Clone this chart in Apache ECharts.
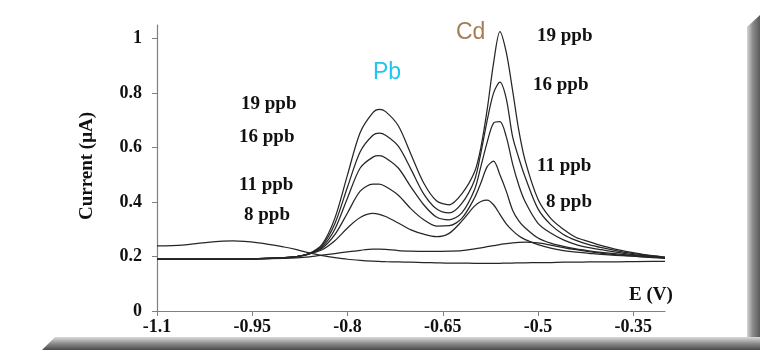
<!DOCTYPE html>
<html><head><meta charset="utf-8">
<script src="https://cdn.jsdelivr.net/npm/echarts@6/dist/echarts.min.js"></script>
<style>html,body{margin:0;padding:0;background:#fff}#c{width:780px;height:360px}</style>
</head><body><div id="c"></div>
<script>
// Potential (V)
const E = [-1.1,-1.06,-1.02,-0.98,-0.94,-0.90,-0.88,-0.86,-0.84,-0.82,-0.80,-0.78,-0.76,-0.75,-0.74,-0.72,-0.70,-0.68,-0.66,-0.64,-0.62,-0.60,-0.59,-0.58,-0.57,-0.56,-0.55,-0.54,-0.53,-0.52,-0.50,-0.48,-0.46,-0.44,-0.42,-0.40,-0.36,-0.32,-0.30];
// Current (µA) curves
const curveBlank = [0.239,0.242,0.252,0.257,0.25,0.235,0.225,0.213,0.203,0.196,0.19,0.186,0.183,0.182,0.181,0.18,0.179,0.178,0.177,0.176,0.176,0.175,0.175,0.175,0.175,0.175,0.176,0.176,0.177,0.177,0.178,0.178,0.179,0.179,0.18,0.18,0.181,0.182,0.182];
const curveLow = [0.19,0.19,0.19,0.19,0.191,0.193,0.195,0.199,0.205,0.211,0.217,0.223,0.227,0.227,0.226,0.222,0.22,0.219,0.219,0.22,0.222,0.228,0.232,0.236,0.24,0.244,0.247,0.25,0.252,0.253,0.25,0.242,0.233,0.225,0.218,0.212,0.203,0.196,0.193];
const curve5 = [0.19,0.19,0.19,0.19,0.191,0.195,0.2,0.21,0.225,0.258,0.305,0.343,0.358,0.355,0.347,0.323,0.298,0.282,0.273,0.285,0.33,0.385,0.402,0.407,0.39,0.355,0.32,0.295,0.275,0.262,0.244,0.231,0.222,0.216,0.212,0.208,0.202,0.198,0.195];
const curve4 = [0.19,0.19,0.19,0.19,0.192,0.196,0.2,0.21,0.23,0.28,0.36,0.44,0.466,0.466,0.457,0.425,0.375,0.335,0.312,0.313,0.34,0.415,0.47,0.53,0.55,0.5,0.44,0.37,0.33,0.305,0.268,0.249,0.237,0.228,0.221,0.215,0.206,0.199,0.196];
const curve3 = [0.19,0.19,0.19,0.19,0.192,0.196,0.2,0.21,0.235,0.3,0.415,0.525,0.565,0.57,0.562,0.525,0.455,0.39,0.345,0.335,0.36,0.445,0.53,0.62,0.69,0.695,0.64,0.54,0.46,0.4,0.322,0.286,0.261,0.244,0.233,0.225,0.21,0.2,0.196];
const curve2 = [0.19,0.19,0.19,0.19,0.192,0.196,0.2,0.211,0.24,0.32,0.455,0.585,0.645,0.653,0.645,0.605,0.52,0.43,0.375,0.36,0.395,0.48,0.58,0.7,0.8,0.84,0.78,0.64,0.56,0.49,0.375,0.317,0.281,0.259,0.244,0.233,0.214,0.202,0.197];
const curve1 = [0.19,0.19,0.19,0.19,0.192,0.196,0.2,0.212,0.245,0.34,0.5,0.655,0.728,0.74,0.732,0.68,0.575,0.47,0.405,0.39,0.43,0.51,0.6,0.74,0.91,1.026,0.95,0.81,0.66,0.55,0.41,0.34,0.3,0.27,0.255,0.24,0.218,0.203,0.198];
const xTicks = [-1.1,-0.95,-0.8,-0.65,-0.5,-0.35];
const yTicks = [0,0.2,0.4,0.6,0.8,1];
const leftLabels = ['19 ppb','16 ppb','11 ppb','8 ppb'];
const rightLabels = ['19 ppb','16 ppb','11 ppb','8 ppb'];

const chart = echarts.init(document.getElementById('c'), null, {renderer:'canvas'});
const serif = 'Liberation Serif';
const curves = [curveBlank, curveLow, curve5, curve4, curve3, curve2, curve1];
const series = curves.map((arr, k) => ({
  type: 'line', name: 'c' + k, data: E.map((e, i) => [e, arr[i]]),
  symbol: 'none', smooth: 0.3,
  lineStyle: {color: '#262626', width: 1.25}
}));
const txt = (x, y, s, extra) => Object.assign({type:'text', x, y, style: Object.assign({text:s, fill:'#111', font:'bold 19px "Liberation Serif"', textVerticalAlign:'middle'}, extra||{})});
const leftPos = [[241,104],[239,137],[239,185],[244,215]];
const rightPos = [[537,36],[533,85],[537,166],[546,202]];
const graphics = [];
leftLabels.forEach((s,i)=>graphics.push(txt(leftPos[i][0], leftPos[i][1], s)));
rightLabels.forEach((s,i)=>graphics.push(txt(rightPos[i][0], rightPos[i][1], s)));
graphics.push(txt(373, 73, 'Pb', {fill:'#1fc6f2', font:'23px "Liberation Sans"'}));
graphics.push(txt(456, 33, 'Cd', {fill:'#a67c52', font:'23px "Liberation Sans"'}));
graphics.push(txt(629, 295, 'E (V)', {font:'bold 19px "Liberation Serif"'}));
graphics.push({type:'text', x:87, y:166, rotation: Math.PI/2, style:{text:'Current (μA)', fill:'#111', font:'bold 19px "Liberation Serif"', textAlign:'center', textVerticalAlign:'middle'}});
// frame shading
graphics.push({type:'polygon', shape:{points:[[747,27],[760,15],[760,350],[747,350]]}, style:{fill: new echarts.graphic.LinearGradient(0,0,1,0,[{offset:0,color:'#d4d4d4'},{offset:0.45,color:'#8a8a8a'},{offset:1,color:'#5a5a5a'}])}});
graphics.push({type:'polygon', shape:{points:[[55,337],[760,337],[760,350],[42,350]]}, style:{fill: new echarts.graphic.LinearGradient(0,0,0,1,[{offset:0,color:'#dcdcdc'},{offset:0.5,color:'#8c8c8c'},{offset:1,color:'#4a4a4a'}])}});

chart.setOption({
  animation: false,
  backgroundColor: '#fff',
  grid: {left:157, right:115, top:25, bottom:49, containLabel:false},
  xAxis: {
    type:'value', min:-1.1, max:-0.3,
    axisLine:{show:true, onZero:false, lineStyle:{color:'#808080', width:1.2}},
    axisTick:{show:true, customValues:xTicks, length:5, lineStyle:{color:'#808080'}},
    axisLabel:{customValues:xTicks, margin:7, color:'#111', fontFamily:serif, fontWeight:'bold', fontSize:18,
      formatter: v => String(+(+v).toFixed(2))},
    splitLine:{show:false}
  },
  yAxis: {
    type:'value', min:0, max:1.05,
    axisLine:{show:true, lineStyle:{color:'#808080', width:1.2}},
    axisTick:{show:true, customValues:yTicks, length:5, lineStyle:{color:'#808080'}},
    axisLabel:{customValues:yTicks, margin:15, color:'#111', fontFamily:serif, fontWeight:'bold', fontSize:18,
      formatter: v => String(+(+v).toFixed(1))},
    splitLine:{show:false}
  },
  series: series,
  graphic: graphics
});
</script></body></html>
